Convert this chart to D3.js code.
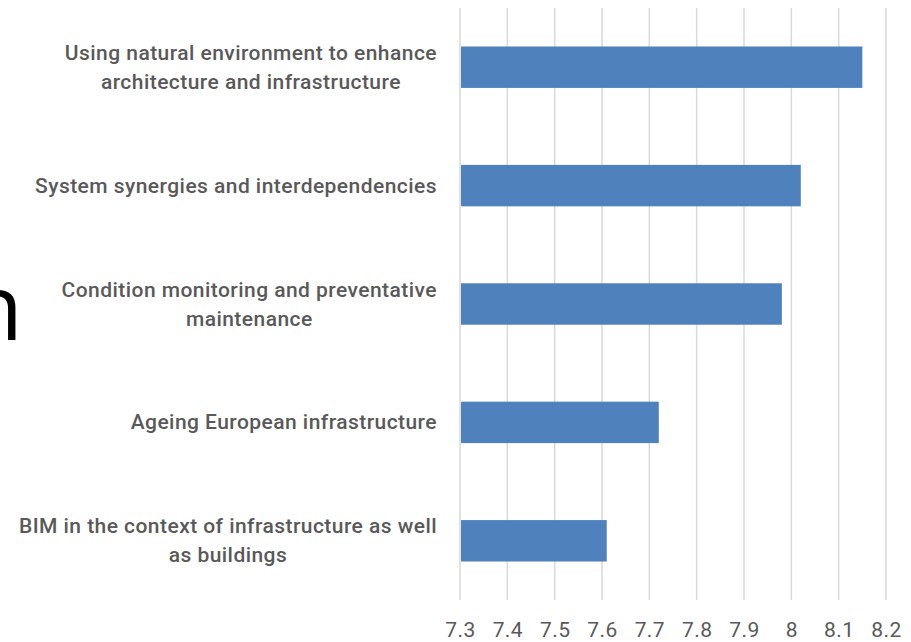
<!DOCTYPE html>
<html lang="en">
<head>
    <meta charset="UTF-8">
    <title>Bar chart</title>
    <script src="https://d3js.org/d3.v7.min.js"></script>
    <style>
        body { margin: 0; background: #fff; }
    </style>
</head>
<body>

    <script>

        var categories = [
            ["Using natural environment to enhance", "architecture and infrastructure"],
            ["System synergies and interdependencies"],
            ["Condition monitoring and preventative", "maintenance"],
            ["Ageing European infrastructure"],
            ["BIM in the context of infrastructure as well", "as buildings"]
        ];
        var values = [8.15, 8.02, 7.98, 7.72, 7.61];
        var tickValues = [7.3, 7.4, 7.5, 7.6, 7.7, 7.8, 7.9, 8, 8.1, 8.2];

        var width = 911;
        var height = 642;
        var plotLeft = 460, plotRight = 886, plotTop = 8, plotBottom = 600;
        var labelFont = "'Roboto', sans-serif";

        var x = d3.scaleLinear()
            .domain([7.3, 8.2])
            .range([plotLeft, plotRight]);

        var y = d3.scaleBand()
            .domain(d3.range(categories.length))
            .range([plotTop, plotBottom])
            .paddingInner(0.65)
            .paddingOuter(0.325);

        var svg = d3.select("body")
            .append("svg")
            .attr("width", width)
            .attr("height", height);

        // cut-off title letter on the left
        svg.append("text")
            .attr("x", 23)
            .attr("y", 340)
            .attr("text-anchor", "end")
            .style("font-family", "'Open Sans', sans-serif")
            .style("font-size", "92px")
            .attr("fill", "#000")
            .text("n");

        var grid = svg.append("g");
        grid.selectAll("line")
            .data(tickValues)
            .enter()
                .append("line")
                .attr("x1", function (d) { return x(d); })
                .attr("x2", function (d) { return x(d); })
                .attr("y1", plotTop)
                .attr("y2", plotBottom)
                .attr("stroke", "#d9d9d9")
                .attr("stroke-width", 1.5);

        svg.selectAll("rect")
            .data(values)
            .enter()
                .append("rect")
                .attr("x", x(7.3) + 1)
                .attr("y", function (d, i) { return y(i); })
                .attr("width", function (d) { return x(d) - x(7.3) - 1; })
                .attr("height", y.bandwidth())
                .attr("fill", "#4f81bd");

        var axis = d3.axisBottom(x)
            .tickValues(tickValues)
            .tickSize(0)
            .tickPadding(0)
            .tickFormat(function (d) { return String(+d.toFixed(1)); });

        var ax = svg.append("g")
            .attr("transform", "translate(0," + plotBottom + ")")
            .call(axis);
        ax.select(".domain").remove();
        ax.selectAll("text")
            .attr("dy", null)
            .attr("y", 37)
            .attr("fill", "#595959")
            .style("font-family", labelFont)
            .style("font-size", "21px")
            .style("letter-spacing", "0.4px");

        var labelRight = 437;
        var labels = svg.append("g")
            .style("font-family", labelFont)
            .style("font-size", "21px")
            .style("font-weight", 500)
            .style("letter-spacing", "0.45px")
            .attr("fill", "#595959");

        categories.forEach(function (lines, i) {
            var cy = y(i) + y.bandwidth() / 2;
            var g = labels.append("g");
            var texts = g.selectAll("text")
                .data(lines)
                .enter()
                    .append("text")
                    .attr("text-anchor", "middle")
                    .attr("y", function (d, j) { return cy + (j - (lines.length - 1) / 2) * 29 + 7; })
                    .text(function (d) { return d; });
            var maxW = 0;
            texts.each(function () { maxW = Math.max(maxW, this.getComputedTextLength()); });
            texts.attr("x", labelRight - maxW / 2);
        });

    </script>

</body>
</html>
